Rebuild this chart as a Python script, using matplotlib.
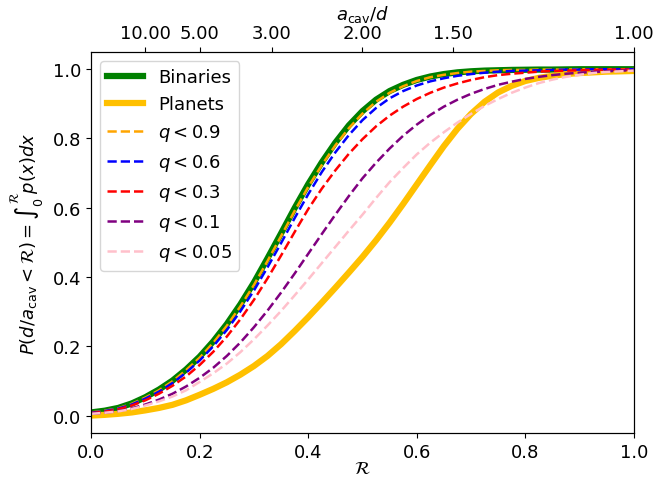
import numpy as np
import matplotlib
matplotlib.use("Agg")
import matplotlib.pyplot as plt

R = [0.0, 0.025, 0.05, 0.075, 0.1, 0.125, 0.15, 0.175, 0.2, 0.225,
     0.25, 0.275, 0.3, 0.325, 0.35, 0.375, 0.4, 0.425, 0.45, 0.475,
     0.5, 0.525, 0.55, 0.575, 0.6, 0.625, 0.65, 0.675, 0.7, 0.725,
     0.75, 0.775, 0.8, 0.825, 0.85, 0.875, 0.9, 0.925, 0.95, 0.975, 1.0]

binaries = [0.009, 0.014, 0.022, 0.035, 0.053, 0.075, 0.101, 0.133, 0.170, 0.214,
            0.264, 0.321, 0.384, 0.454, 0.526, 0.599, 0.668, 0.731, 0.788, 0.838,
            0.879, 0.912, 0.937, 0.955, 0.969, 0.979, 0.986, 0.991, 0.994, 0.996,
            0.997, 0.998, 0.9985, 0.999, 0.999, 0.9995, 1.0, 1.0, 1.0, 1.0, 1.0]
planets = [0.0, 0.002, 0.005, 0.009, 0.015, 0.022, 0.031, 0.044, 0.060, 0.077,
           0.096, 0.118, 0.143, 0.172, 0.206, 0.244, 0.284, 0.326, 0.369, 0.413,
           0.458, 0.506, 0.557, 0.611, 0.667, 0.723, 0.778, 0.828, 0.871, 0.906,
           0.933, 0.952, 0.966, 0.975, 0.981, 0.986, 0.989, 0.991, 0.993, 0.994, 0.995]
q09 = [0.009, 0.014, 0.021, 0.034, 0.052, 0.073, 0.099, 0.131, 0.167, 0.210,
       0.259, 0.315, 0.377, 0.446, 0.518, 0.591, 0.660, 0.723, 0.780, 0.830,
       0.872, 0.906, 0.932, 0.951, 0.966, 0.977, 0.984, 0.989, 0.993, 0.995,
       0.997, 0.998, 0.998, 0.999, 0.999, 0.999, 1.0, 1.0, 1.0, 1.0, 1.0]
q06 = [0.008, 0.013, 0.020, 0.032, 0.049, 0.069, 0.094, 0.124, 0.159, 0.200,
       0.247, 0.301, 0.361, 0.428, 0.498, 0.570, 0.639, 0.703, 0.760, 0.810,
       0.853, 0.888, 0.916, 0.937, 0.953, 0.965, 0.974, 0.981, 0.986, 0.990,
       0.993, 0.995, 0.996, 0.997, 0.998, 0.999, 0.999, 1.0, 1.0, 1.0, 1.0]
q03 = [0.007, 0.011, 0.018, 0.029, 0.044, 0.063, 0.086, 0.113, 0.146, 0.184,
       0.228, 0.278, 0.334, 0.396, 0.462, 0.530, 0.596, 0.655, 0.708, 0.756,
       0.798, 0.835, 0.866, 0.892, 0.914, 0.932, 0.947, 0.959, 0.969, 0.977,
       0.983, 0.987, 0.990, 0.993, 0.995, 0.996, 0.997, 0.998, 0.999, 0.999, 0.999]
q01 = [0.005, 0.008, 0.013, 0.021, 0.032, 0.046, 0.063, 0.084, 0.109, 0.138,
       0.172, 0.211, 0.255, 0.303, 0.355, 0.410, 0.467, 0.524, 0.580, 0.634,
       0.685, 0.730, 0.771, 0.808, 0.840, 0.868, 0.892, 0.912, 0.929, 0.943,
       0.955, 0.964, 0.972, 0.978, 0.983, 0.987, 0.990, 0.992, 0.994, 0.996, 0.997]
q005 = [0.005, 0.008, 0.012, 0.019, 0.029, 0.041, 0.055, 0.073, 0.097, 0.122,
        0.150, 0.183, 0.220, 0.260, 0.302, 0.347, 0.393, 0.440, 0.487, 0.534,
        0.580, 0.628, 0.674, 0.715, 0.754, 0.788, 0.818, 0.846, 0.871, 0.894,
        0.914, 0.932, 0.947, 0.960, 0.970, 0.978, 0.984, 0.989, 0.992, 0.994, 0.996]

top_vals = [10.0, 5.0, 3.0, 2.0, 1.5, 1.0]

fig = plt.figure(figsize=(6.7, 4.81), dpi=100)
ax = fig.add_axes([0.136, 0.098, 0.81, 0.792])
fs = 13

ax.plot(R, binaries, color='green', lw=4.5, label='Binaries')
ax.plot(R, planets, color='#FFC000', lw=4.5, label='Planets')
ax.plot(R, q09, color='orange', ls='--', lw=1.8, label=r'$q < 0.9$')
ax.plot(R, q06, color='blue', ls='--', lw=1.8, label=r'$q < 0.6$')
ax.plot(R, q03, color='red', ls='--', lw=1.8, label=r'$q < 0.3$')
ax.plot(R, q01, color='purple', ls='--', lw=1.8, label=r'$q < 0.1$')
ax.plot(R, q005, color='pink', ls='--', lw=1.8, label=r'$q < 0.05$')

ax.set_xlim(0, 1)
ax.set_ylim(-0.05, 1.05)
ax.set_xlabel(r'$\mathcal{R}$', fontsize=fs, labelpad=-1)
ax.set_ylabel(r'$P(d/a_{\rm cav} < \mathcal{R}) = \int_0^\mathcal{R} p(x)dx$', fontsize=fs)
ax.tick_params(labelsize=fs)
ax.legend(loc='upper left', fontsize=fs)

ax2 = ax.twiny()
ax2.set_xlim(ax.get_xlim())
ax2.set_xticks([1.0 / v for v in top_vals])
ax2.set_xticklabels(['%.2f' % v for v in top_vals])
ax2.tick_params(labelsize=fs)
ax2.set_xlabel(r'$a_{\rm cav}/d$', fontsize=fs)

fig.savefig('out.png', dpi=100)
